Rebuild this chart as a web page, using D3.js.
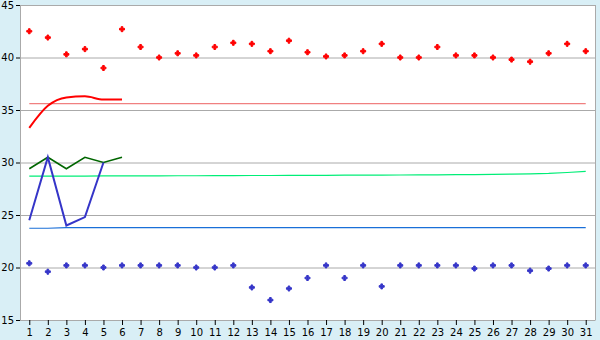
<!DOCTYPE html>
<html lang="en">
  <head>
    <meta charset="utf-8" />
    <style>
      body { margin: 0; background: #d9eff6; }
      svg text { font-family: "DejaVu Sans", Verdana, sans-serif; font-size: 10px; fill: #000; }
    </style>
  </head>
  <body>
    <script src="https://d3js.org/d3.v7.min.js"></script>
    <div id="chart"></div>
    <script>
      // days of the month
      const days = d3.range(1, 32);
      const yTicks = [15, 20, 25, 30, 35, 40, 45];

      // daily highs (red markers) and lows (blue markers)
      const highs = [42.5, 41.9, 40.3, 40.8, 39.0, 42.7, 41.0, 40.0, 40.4, 40.2,
        41.0, 41.4, 41.3, 40.6, 41.6, 40.5, 40.1, 40.2, 40.6, 41.3,
        40.0, 40.0, 41.0, 40.2, 40.2, 40.0, 39.8, 39.6, 40.4, 41.3, 40.6];
      const lows = [20.4, 19.6, 20.2, 20.2, 20.0, 20.2, 20.2, 20.2, 20.2, 20.0,
        20.0, 20.2, 18.1, 16.9, 18.0, 19.0, 20.2, 19.0, 20.2, 18.2,
        20.2, 20.2, 20.2, 20.2, 19.9, 20.2, 20.2, 19.7, 19.9, 20.2, 20.2];

      // lines for the first days
      const redLine = [33.3, 35.4, 36.2, 36.3, 36.0, 36.0];
      const greenLine = [29.4, 30.5, 29.4, 30.5, 30.0, 30.5];
      const blueLine = [24.5, 30.5, 24.0, 24.8, 30.0];

      // reference lines over the whole month
      const highAvg = days.map(() => 35.6);
      const meanAvg = [28.70, 28.70, 28.71, 28.71, 28.72, 28.72, 28.73, 28.73, 28.74, 28.74,
        28.75, 28.75, 28.76, 28.76, 28.77, 28.77, 28.78, 28.79, 28.80, 28.80,
        28.81, 28.82, 28.83, 28.84, 28.85, 28.87, 28.89, 28.92, 28.96, 29.05, 29.16];
      const lowAvg = [23.74, 23.74, 23.8, 23.8, 23.8, 23.8, 23.8, 23.8, 23.8, 23.8,
        23.8, 23.8, 23.8, 23.8, 23.8, 23.8, 23.8, 23.8, 23.8, 23.8,
        23.8, 23.8, 23.8, 23.8, 23.8, 23.8, 23.8, 23.8, 23.8, 23.8, 23.8];

      const W = 600, H = 340;
      const margin = { top: 5, right: 5, bottom: 20, left: 20 };
      const width = W - margin.left - margin.right,
        height = H - margin.top - margin.bottom;

      const svg = d3.select("#chart").append("svg")
        .attr("width", W).attr("height", H)
        .append("g")
        .attr("transform", `translate(${margin.left},${margin.top})`);

      const x = d3.scalePoint().domain(days).range([0, width]).padding(0.5);
      const y = d3.scaleLinear().domain([15, 45]).range([height, 0]);

      // plot background
      svg.append("rect")
        .attr("width", width).attr("height", height)
        .attr("fill", "#fff");

      // grid lines
      svg.append("g").selectAll("line")
        .data(yTicks)
        .join("line")
        .attr("x1", 0).attr("x2", width)
        .attr("y1", d => y(d) + 0.5).attr("y2", d => y(d) + 0.5)
        .attr("stroke", "#aaa");

      // right border
      svg.append("line")
        .attr("x1", width + 0.5).attr("x2", width + 0.5)
        .attr("y1", 0).attr("y2", height)
        .attr("stroke", "#aaa");

      // axes
      const yAxis = svg.append("g")
        .call(d3.axisLeft(y).tickValues(yTicks).tickSize(4).tickSizeOuter(0).tickPadding(2));
      const xAxis = svg.append("g")
        .attr("transform", `translate(0,${height})`)
        .call(d3.axisBottom(x).tickSize(5).tickSizeOuter(0).tickPadding(4));
      [yAxis, xAxis].forEach(a => {
        a.select(".domain").attr("stroke", "#aaa");
        a.selectAll(".tick line").attr("stroke", "#000");
        a.selectAll("text").style("font-size", "10px");
      });

      const line = d3.line().x((d, i) => x(days[i])).y(d => y(d));

      // reference lines
      [[highAvg, "#f08080"], [meanAvg, "#00ee77"], [lowAvg, "#1a6fd8"]].forEach(([vals, c]) => {
        svg.append("path")
          .attr("d", line(vals))
          .attr("fill", "none")
          .attr("stroke", c)
          .attr("stroke-width", 1.2);
      });

      // daily lines
      svg.append("path")
        .attr("d", line.curve(d3.curveMonotoneX)(redLine))
        .attr("fill", "none").attr("stroke", "#f00").attr("stroke-width", 2);
      line.curve(d3.curveLinear);
      svg.append("path")
        .attr("d", line(greenLine))
        .attr("fill", "none").attr("stroke", "#006600").attr("stroke-width", 1.6);
      svg.append("path")
        .attr("d", line(blueLine))
        .attr("fill", "none").attr("stroke", "#3535c8").attr("stroke-width", 2);

      // markers
      const cross = d3.symbol().type(d3.symbolCross).size(14);
      svg.append("g").selectAll("path")
        .data(highs)
        .join("path")
        .attr("d", cross)
        .attr("transform", (d, i) => `translate(${x(days[i])},${y(d)})`)
        .attr("fill", "#f00").attr("stroke", "#f00").attr("stroke-width", 1);
      svg.append("g").selectAll("path")
        .data(lows)
        .join("path")
        .attr("d", cross)
        .attr("transform", (d, i) => `translate(${x(days[i])},${y(d)})`)
        .attr("fill", "#3535c8").attr("stroke", "#3535c8").attr("stroke-width", 1);
    </script>
  </body>
</html>
